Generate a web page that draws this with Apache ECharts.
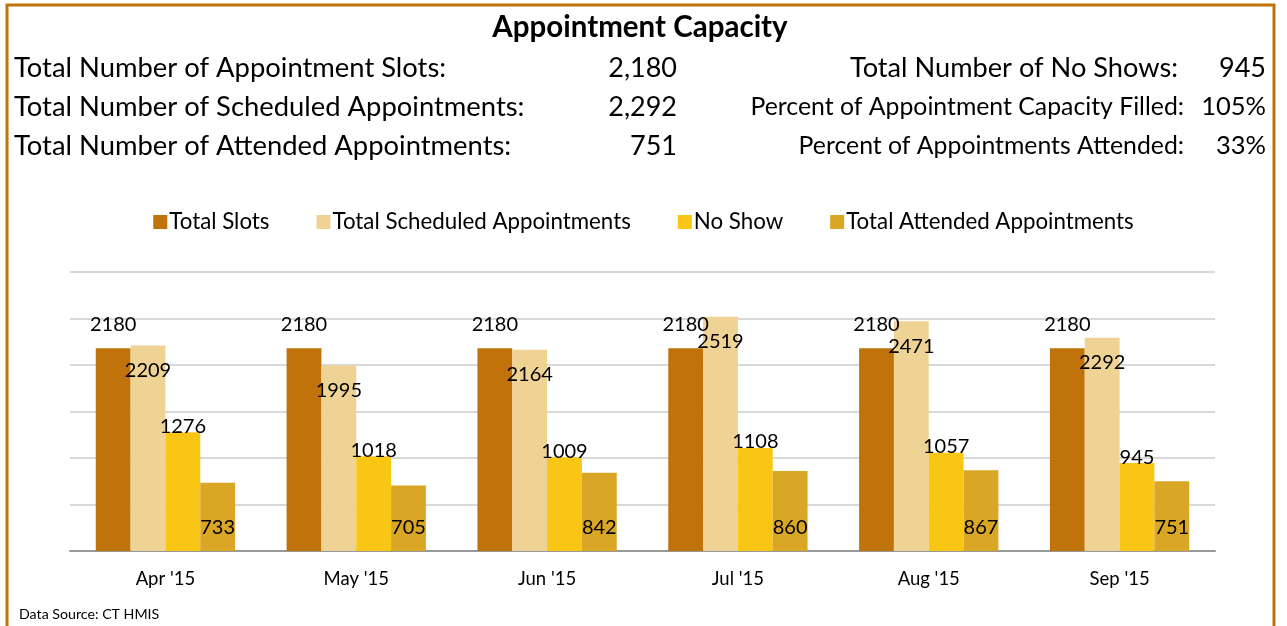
<!DOCTYPE html>
<html>
<head>
<meta charset="utf-8">
<script src="https://cdn.jsdelivr.net/npm/echarts@6/dist/echarts.min.js"></script>
<style>
html,body{margin:0;padding:0;background:#fff;}
#main{width:1287px;height:626px;}
</style>
</head>
<body>
<div id="main"></div>
<script>
const categories = ["Apr '15", "May '15", "Jun '15", "Jul '15", "Aug '15", "Sep '15"];
const totalSlots = [2180, 2180, 2180, 2180, 2180, 2180];
const totalScheduled = [2209, 1995, 2164, 2519, 2471, 2292];
const noShow = [1276, 1018, 1009, 1108, 1057, 945];
const totalAttended = [733, 705, 842, 860, 867, 751];
const seriesNames = ["Total Slots", "Total Scheduled Appointments", "No Show", "Total Attended Appointments"];
const leftSummaryLabels = ["Total Number of Appointment Slots:", "Total Number of Scheduled Appointments:", "Total Number of Attended Appointments:"];
const leftSummaryValues = ["2,180", "2,292", "751"];
const rightSummaryLabels = ["Total Number of No Shows:", "Percent of Appointment Capacity Filled:", "Percent of Appointments Attended:"];
const rightSummaryValues = ["945", "105%", "33%"];

const FONT = "Lato, 'Open Sans', sans-serif";
const colors = ['#C1730B', '#EED394', '#F9C616', '#DAA625'];
const rowY = [68, 107, 146];

const graphics = [
  {type:'rect', shape:{x:7, y:5, width:1267, height:640}, style:{fill:'none', stroke:'#C1730B', lineWidth:3}, silent:true},
  {type:'text', x:640, y:27, style:{text:'Appointment Capacity', font:"bold 29.5px " + FONT, fill:'#000', textAlign:'center', textVerticalAlign:'middle'}},
  {type:'text', x:19, y:614, style:{text:'Data Source: CT HMIS', font:"14.2px " + FONT, fill:'#000', textAlign:'left', textVerticalAlign:'middle'}}
];
leftSummaryLabels.forEach((t, i) => {
  graphics.push({type:'text', x:14, y:rowY[i], style:{text:t, font:"27.4px " + FONT, fill:'#000', textAlign:'left', textVerticalAlign:'middle'}});
  graphics.push({type:'text', x:677, y:rowY[i], style:{text:leftSummaryValues[i], font:"27px " + FONT, fill:'#000', textAlign:'right', textVerticalAlign:'middle'}});
});
rightSummaryLabels.forEach((t, i) => {
  const fs = i === 0 ? 27.2 : 24.8;
  graphics.push({type:'text', x:i === 0 ? 1178 : 1184, y:rowY[i], style:{text:t, font:fs + "px " + FONT, fill:'#000', textAlign:'right', textVerticalAlign:'middle'}});
  graphics.push({type:'text', x:1266, y:rowY[i], style:{text:rightSummaryValues[i], font:(i === 0 ? 27 : 25.5) + "px " + FONT, fill:'#000', textAlign:'right', textVerticalAlign:'middle'}});
});

const labelCfg = [
  {position:'top', distance:14},
  {position:'insideTop', distance:15},
  {position:'top', distance:-4},
  {position:'insideBottom', distance:13}
];
const allData = [totalSlots, totalScheduled, noShow, totalAttended];

const chart = echarts.init(document.getElementById('main'), null, {renderer:'canvas'});
chart.setOption({
  animation:false,
  backgroundColor:'#fff',
  textStyle:{fontFamily:FONT},
  graphic:graphics,
  legend:{
    data:seriesNames,
    top:206,
    left:'center',
    itemWidth:14, itemHeight:14, itemGap:47,
    icon:'rect',
    textStyle:{fontSize:22.3, color:'#000', fontFamily:FONT, padding:[0,0,0,-3]}
  },
  grid:{left:70, right:72, top:272, bottom:75, containLabel:false},
  xAxis:{
    type:'category', data:categories,
    axisLine:{lineStyle:{color:'#999', width:2}},
    axisTick:{show:false},
    axisLabel:{fontSize:18.5, color:'#000', margin:19, fontFamily:FONT}
  },
  yAxis:{
    type:'value', min:0, max:3000, interval:500,
    axisLabel:{show:false}, axisLine:{show:false}, axisTick:{show:false},
    splitLine:{lineStyle:{color:'#D9D9D9', width:2}}
  },
  series: seriesNames.map((n, i) => ({
    name:n, type:'bar', data:allData[i],
    itemStyle:{color:colors[i]},
    barGap:'0%', barCategoryGap:'27%',
    label:{show:true, position:labelCfg[i].position, distance:labelCfg[i].distance, fontSize:20, color:'#000', fontFamily:FONT}
  }))
});
</script>
</body>
</html>
